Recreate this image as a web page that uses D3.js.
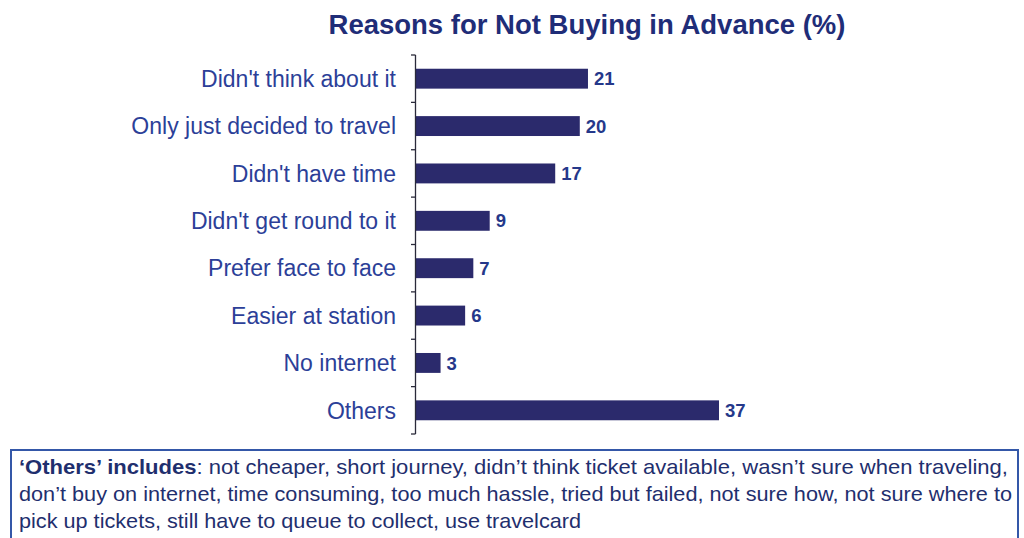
<!DOCTYPE html>
<html>
<head>
<meta charset="utf-8">
<script src="https://cdn.jsdelivr.net/npm/d3@7"></script>
<style>
  html, body { margin: 0; padding: 0; background: #fff; }
  svg { display: block; font-family: "Liberation Sans", Arial, sans-serif; }
</style>
</head>
<body>
<svg id="chart" width="1024" height="538"></svg>
<script>
// Survey answers: why travellers did not buy tickets in advance
const reasons = [
  "Didn't think about it",
  "Only just decided to travel",
  "Didn't have time",
  "Didn't get round to it",
  "Prefer face to face",
  "Easier at station",
  "No internet",
  "Others"
];
const percents = [21, 20, 17, 9, 7, 6, 3, 37];

const titleText = "Reasons for Not Buying in Advance (%)";
const noteHead = "\u2018Others\u2019 includes";
const noteLines = [
  ": not cheaper, short journey, didn\u2019t think ticket available, wasn\u2019t sure when traveling,",
  "don\u2019t buy on internet, time consuming, too much hassle, tried but failed, not sure how, not sure where to",
  "pick up tickets, still have to queue to collect, use travelcard"
];

const svg = d3.select("#chart");

const plot = { left: 416, top: 55, bottom: 434 };

const x = d3.scaleLinear().domain([0, 37]).range([plot.left, 719]);
const y = d3.scaleBand().domain(reasons).range([plot.top, plot.bottom]).paddingInner(0.58).paddingOuter(0.29);

// Title
svg.append("text")
  .attr("x", 587).attr("y", 34)
  .attr("text-anchor", "middle")
  .attr("font-size", 27.5).attr("font-weight", "bold")
  .attr("fill", "#1f2d78")
  .text(titleText);

// Bars
svg.append("g").selectAll("rect")
  .data(percents)
  .join("rect")
  .attr("x", x(0))
  .attr("y", (d, i) => y(reasons[i]))
  .attr("width", d => x(d) - x(0))
  .attr("height", y.bandwidth())
  .attr("fill", "#2b2a6c");

// Value labels
svg.append("g").selectAll("text")
  .data(percents)
  .join("text")
  .attr("x", d => x(d) + 6)
  .attr("y", (d, i) => y(reasons[i]) + y.bandwidth() / 2)
  .attr("dy", "0.36em")
  .attr("font-size", 18.5).attr("font-weight", "bold")
  .attr("fill", "#25388a")
  .text(d => d);

// Category labels
svg.append("g").selectAll("text")
  .data(reasons)
  .join("text")
  .attr("x", 396)
  .attr("y", d => y(d) + y.bandwidth() / 2)
  .attr("dy", "0.36em")
  .attr("text-anchor", "end")
  .attr("font-size", 23)
  .attr("fill", "#2c3f98")
  .text(d => d);

// Category axis: vertical line with ticks between the bands
const boundaries = d3.range(reasons.length + 1).map(i => plot.top + i * (plot.bottom - plot.top) / reasons.length);
const axis = svg.append("g").attr("stroke", "#2a2a3a").attr("stroke-width", 1.3);
axis.append("line")
  .attr("x1", plot.left - 0.5).attr("x2", plot.left - 0.5)
  .attr("y1", plot.top).attr("y2", plot.bottom);
axis.selectAll("line.tick")
  .data(boundaries)
  .join("line")
  .attr("class", "tick")
  .attr("x1", plot.left - 5).attr("x2", plot.left - 0.5)
  .attr("y1", d => d).attr("y2", d => d);

// Footnote box
svg.append("rect")
  .attr("x", 11).attr("y", 450)
  .attr("width", 1007).attr("height", 100)
  .attr("fill", "none")
  .attr("stroke", "#3457a8").attr("stroke-width", 2);

const note = svg.append("g").attr("font-size", 21).attr("fill", "#1f2f6e");
const first = note.append("text").attr("x", 19).attr("y", 474)
  .attr("textLength", 989).attr("lengthAdjust", "spacingAndGlyphs");
first.append("tspan").attr("font-weight", "bold").text(noteHead);
first.append("tspan").text(noteLines[0]);
note.append("text").attr("x", 19).attr("y", 501)
  .attr("textLength", 993).attr("lengthAdjust", "spacingAndGlyphs")
  .text(noteLines[1]);
note.append("text").attr("x", 19).attr("y", 528)
  .attr("textLength", 562).attr("lengthAdjust", "spacingAndGlyphs")
  .text(noteLines[2]);
</script>
</body>
</html>
